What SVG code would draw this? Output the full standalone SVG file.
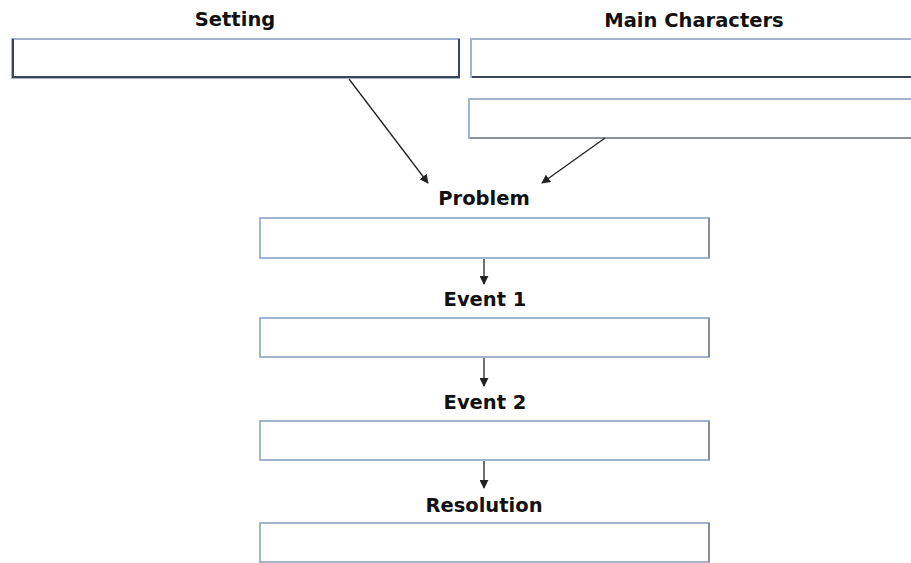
<svg xmlns="http://www.w3.org/2000/svg" width="911" height="563" viewBox="0 0 911 563">
<style>
.box{fill:#fff;stroke:#a3b4d0;stroke-width:2}
.dk{stroke:#3c4658;stroke-width:2;fill:none}
.gr{stroke:#8a8f99;stroke-width:2;fill:none}
.lbl{font-family:"DejaVu Sans",Verdana,sans-serif;font-weight:bold;font-size:19.5px;fill:#111;text-anchor:middle}
.ar{stroke:#222;stroke-width:1.3;fill:none}
</style>
<defs>
<marker id="ah" viewBox="0 0 10 10" refX="9" refY="5" markerWidth="9" markerHeight="9" markerUnits="userSpaceOnUse" orient="auto">
<path d="M0,0 L10,5 L0,10 z" fill="#222"/>
</marker>
</defs>
<g id="setting">
<text class="lbl" x="235" y="26">Setting</text>
<rect class="box" x="12" y="39" width="447" height="39"/>
<path class="dk" d="M13,39 V77 H458"/>
<path class="dk" d="M459,39 V78"/>
</g>
<g id="main-characters">
<text class="lbl" x="694" y="27">Main Characters</text>
<rect class="box" x="471" y="39" width="460" height="38"/>
<path class="dk" d="M472,77 H911"/>
<rect class="box" x="469" y="99" width="462" height="39"/>
<path class="gr" d="M470,138 H911"/>
</g>
<g id="problem">
<text class="lbl" x="484" y="205">Problem</text>
<rect class="box" x="260" y="218" width="449" height="40"/>
<path class="gr" d="M709,218 V258"/>
</g>
<g id="event1">
<text class="lbl" x="485" y="306">Event 1</text>
<rect class="box" x="260" y="318" width="449" height="39"/>
<path class="gr" d="M709,318 V357"/>
</g>
<g id="event2">
<text class="lbl" x="485" y="409">Event 2</text>
<rect class="box" x="260" y="421" width="449" height="39"/>
<path class="gr" d="M709,421 V460"/>
</g>
<g id="resolution">
<text class="lbl" x="484" y="512">Resolution</text>
<rect class="box" x="260" y="523" width="449" height="39"/>
<path class="gr" d="M709,523 V562"/>
</g>
<g id="connectors">
<path class="ar" d="M349,79 L428,183" marker-end="url(#ah)"/>
<path class="ar" d="M605,138 L542,183" marker-end="url(#ah)"/>
<path class="ar" d="M484,259 V284" marker-end="url(#ah)"/>
<path class="ar" d="M484,358 V386" marker-end="url(#ah)"/>
<path class="ar" d="M484,461 V488" marker-end="url(#ah)"/>
</g>
</svg>
